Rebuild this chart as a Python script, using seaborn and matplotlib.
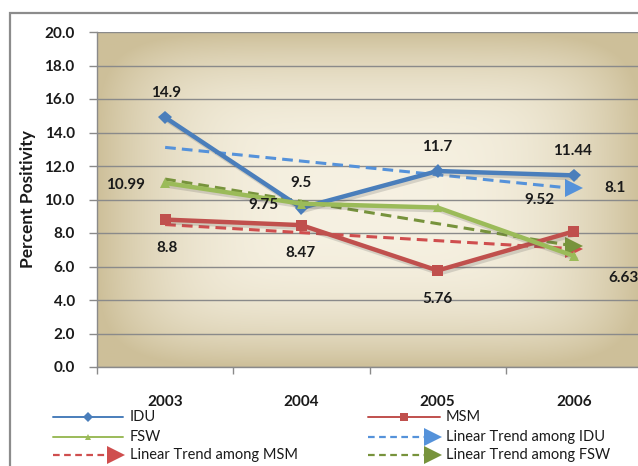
import numpy as np
import pandas as pd
import matplotlib
matplotlib.use("Agg")
import matplotlib.pyplot as plt
import matplotlib.patheffects as pe
from matplotlib.lines import Line2D
from matplotlib.patches import Rectangle
import seaborn as sns

# ---------------- data ----------------
years = ["2003", "2004", "2005", "2006"]
idu = [14.9, 9.5, 11.7, 11.44]
msm = [8.8, 8.47, 5.76, 8.1]
fsw = [10.99, 9.75, 9.52, 6.63]
y_ticks = [0.0, 2.0, 4.0, 6.0, 8.0, 10.0, 12.0, 14.0, 16.0, 18.0, 20.0]
series_names = ["IDU", "MSM", "FSW"]
trend_names = ["Linear Trend among IDU", "Linear Trend among MSM", "Linear Trend among FSW"]

# ---------------- style ----------------
sns.set_theme(style="white")
plt.rcParams["font.family"] = ["Lato", "DejaVu Sans"]

W, H = 638, 466
fig = plt.figure(figsize=(W / 100, H / 100), dpi=100)
fig.patch.set_facecolor("white")

def fx(px):
    return px / W

def fy(py):
    return 1 - py / H

# outer chart frame (cropped at right/bottom)
fig.add_artist(Rectangle((fx(10), fy(600)), fx(700), fy(13) - fy(600),
                         transform=fig.transFigure, fill=False,
                         ec="#8C8C8C", lw=1.6, clip_on=False))

ax = fig.add_axes([fx(97), fy(367), fx(642) - fx(97), fy(32) - fy(367)])
ax.set_xlim(-0.5, 3.5)
ax.set_ylim(0, 20)

# gradient background
n = 400
u = np.linspace(-1, 1, n)
U, V = np.meshgrid(u, u)
d = (np.abs(U) ** 6 + np.abs(V) ** 6) ** (1 / 6)
t = np.clip(d, 0, 1) ** 3
center = np.array([0.965, 0.945, 0.885])
edge = np.array([0.805, 0.750, 0.600])
img = center[None, None, :] * (1 - t[..., None]) + edge[None, None, :] * t[..., None]
ax.imshow(img, extent=(-0.5, 3.5, 0, 20), aspect="auto", zorder=0.1, interpolation="bilinear")

# grid & axes
ax.set_yticks(y_ticks)
ax.set_yticklabels([f"{v:.1f}" for v in y_ticks], fontsize=11, fontweight="bold", color="#1a1a1a")
ax.yaxis.grid(True, color="#8A8A8A", lw=1.0, zorder=0.5)
ax.xaxis.grid(False)
ax.set_axisbelow(True)
for s in ["top", "right"]:
    ax.spines[s].set_visible(False)
for s in ["left", "bottom"]:
    ax.spines[s].set_color("#8A8A8A")
    ax.spines[s].set_linewidth(1.0)
ax.tick_params(axis="y", which="major", length=6, width=1, color="#8A8A8A", pad=10, left=True)

pos = np.arange(len(years))

colors = {"IDU": "#4A7EBB", "MSM": "#C0504D", "FSW": "#9BBB59"}
tcolors = {"IDU": "#5592DA", "MSM": "#CF4E4E", "FSW": "#77933C"}
markers = {"IDU": "D", "MSM": "s", "FSW": "^"}
msizes = {"IDU": 7, "MSM": 8, "FSW": 7}
data = {"IDU": idu, "MSM": msm, "FSW": fsw}

shadow = [pe.SimpleLineShadow(offset=(1.5, -2), shadow_color="#555555", alpha=0.2), pe.Normal()]

# trend lines (linear fit of each series)
for name in ["IDU", "MSM", "FSW"]:
    coef = np.polyfit(pos, data[name], 1)
    tr = np.polyval(coef, pos[[0, -1]])
    df = pd.DataFrame({"x": pos[[0, -1]], "y": tr})
    sns.lineplot(data=df, x="x", y="y", ax=ax, color=tcolors[name], lw=2.2,
                 linestyle=(0, (3.5, 2)), zorder=3, marker=">", markersize=13,
                 markevery=[1], markeredgewidth=0, markerfacecolor=tcolors[name])

# main series
for name in ["IDU", "MSM", "FSW"]:
    df = pd.DataFrame({"x": pos, "y": data[name]})
    sns.lineplot(data=df, x="x", y="y", ax=ax, color=colors[name], lw=3.2, zorder=4,
                 marker=markers[name], markersize=msizes[name], markeredgewidth=0,
                 markerfacecolor=colors[name], path_effects=shadow)

ax.set_xticks(pos)
ax.set_xticklabels(years, fontsize=11, fontweight="bold", color="#1a1a1a")
ax.tick_params(axis="x", which="major", length=0, pad=20)
ax.set_xticks(np.arange(len(years)) - 0.5, minor=True)
ax.tick_params(axis="x", which="minor", length=5, width=1, color="#8A8A8A", bottom=True)
ax.set_xlim(-0.5, 3.5)
ax.set_ylim(0, 20)

ax.set_xlabel("")
ax.set_ylabel("Percent Positivity", fontsize=12.5, fontweight="bold", color="#1a1a1a", labelpad=6)

# data labels (offsets in pixels: dx right, dy up)
offsets = {
    "IDU": [(1, 24), (0, 25), (0, 24), (-1, 24)],
    "MSM": [(2, -28), (-1, -28), (0, -28), (41, 43)],
    "FSW": [(-40, -2), (-38, -1), (102, 8), (50, -22)],
}
for name in ["IDU", "MSM", "FSW"]:
    for i, v in enumerate(data[name]):
        dx, dy = offsets[name][i]
        ax.annotate(f"{v:g}", xy=(pos[i], v), xytext=(dx * 0.72, dy * 0.72),
                    textcoords="offset points", ha="center", va="center",
                    fontsize=11, fontweight="bold", color="#1a1a1a", zorder=6,
                    annotation_clip=False)

# legend (drawn in figure pixels)
leg_rows = [417, 437, 455]
entries = [
    ("IDU", 53, 123, 130, leg_rows[0], "series"),
    ("MSM", 368, 440, 446, leg_rows[0], "series"),
    ("FSW", 53, 123, 130, leg_rows[1], "series"),
    ("IDU", 368, 440, 446, leg_rows[1], "trend"),
    ("MSM", 53, 123, 130, leg_rows[2], "trend"),
    ("FSW", 368, 440, 446, leg_rows[2], "trend"),
]
for name, x0, x1, xt, yy, kind in entries:
    if kind == "series":
        fig.add_artist(Line2D([fx(x0), fx(x1)], [fy(yy), fy(yy)], transform=fig.transFigure,
                              color=colors[name], lw=1.4))
        fig.add_artist(Line2D([fx((x0 + x1) / 2)], [fy(yy)], transform=fig.transFigure,
                              color=colors[name], marker=markers[name],
                              markersize=msizes[name] - 2, markeredgewidth=0, lw=0))
        label = name
    else:
        fig.add_artist(Line2D([fx(x0), fx(x1 - 10)], [fy(yy), fy(yy)], transform=fig.transFigure,
                              color=tcolors[name], lw=1.6, linestyle=(0, (3, 2))))
        fig.add_artist(Line2D([fx(x1 - 7)], [fy(yy)], transform=fig.transFigure,
                              color=tcolors[name], marker=">", markersize=13,
                              markeredgewidth=0, lw=0))
        label = trend_names[series_names.index(name)]
    fig.text(fx(xt), fy(yy), label, ha="left", va="center", fontsize=10.5, color="#1a1a1a")

fig.savefig("out.png", dpi=100)
